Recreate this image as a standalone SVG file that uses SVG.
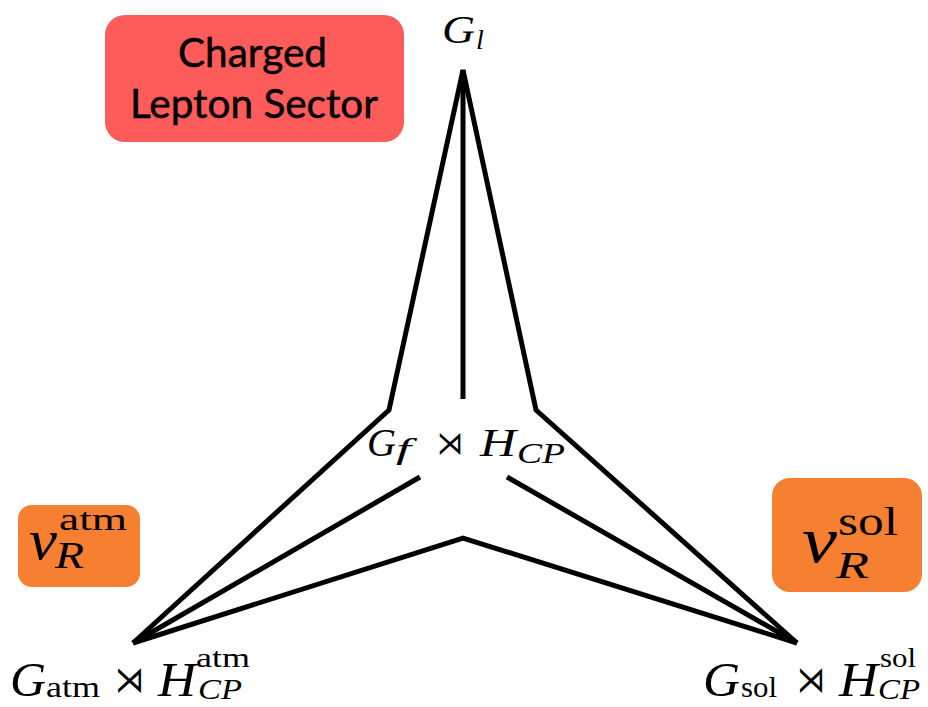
<svg xmlns="http://www.w3.org/2000/svg" width="928" height="707" viewBox="0 0 928 707">
<style>
.m{font-family:"Liberation Serif","DejaVu Serif",serif;fill:#000}
.i{font-style:italic}
.op{font-family:"DejaVu Serif","Liberation Serif",serif;fill:#000}
.lbl{font-family:Lato,"Open Sans",sans-serif;font-size:40px;fill:#000;stroke:#000;stroke-width:0.5}
.edge{fill:none;stroke:#000;stroke-width:5;stroke-linejoin:miter;stroke-linecap:butt}
</style>
<rect width="928" height="707" fill="#fff"/>
<g id="connectors">
<path class="edge" d="M133,643 L389,410 L463,70 L536,410 L797,643"/>
<path class="edge" d="M463,70 L463,399"/>
<path class="edge" d="M133,643 L420,477"/>
<path class="edge" d="M797,643 L507,477"/>
<path class="edge" d="M133,643 L463,538 L797,643"/>
</g>
<g id="charged-lepton-sector">
<rect x="105" y="15" width="299" height="127" rx="20" fill="#FE5B5B"/>
<text class="lbl" x="178" y="67" textLength="149" lengthAdjust="spacingAndGlyphs">Charged</text>
<text class="lbl" x="130" y="118" textLength="248" lengthAdjust="spacingAndGlyphs">Lepton Sector</text>
</g>
<g id="nu-atm">
<rect x="18" y="505" width="122" height="82" rx="14" fill="#F77F31"/>
<text class="m i" x="29" y="559" font-size="58" textLength="28" lengthAdjust="spacingAndGlyphs">ν</text>
<text class="m" x="59" y="530" font-size="32" textLength="68" lengthAdjust="spacingAndGlyphs">atm</text>
<text class="m i" x="55" y="568" font-size="38" textLength="29" lengthAdjust="spacingAndGlyphs">R</text>
</g>
<g id="nu-sol">
<rect x="772" y="478" width="150" height="114" rx="18" fill="#F77F31"/>
<text class="m i" x="802" y="562" font-size="65" textLength="35" lengthAdjust="spacingAndGlyphs">ν</text>
<text class="m" x="838" y="535" font-size="39" textLength="60" lengthAdjust="spacingAndGlyphs">sol</text>
<text class="m i" x="836" y="578" font-size="38" textLength="33" lengthAdjust="spacingAndGlyphs">R</text>
</g>
<g id="G-l">
<text class="m i" x="442" y="43" font-size="40" textLength="33" lengthAdjust="spacingAndGlyphs">G</text>
<text class="m i" x="476" y="49" font-size="28">l</text>
</g>
<g id="G-f">
<text class="m i" x="367" y="456" font-size="41" textLength="29" lengthAdjust="spacingAndGlyphs">G</text>
<text class="m i" x="396" y="459" font-size="30" textLength="15" lengthAdjust="spacingAndGlyphs">f</text>
<text class="op" x="437" y="454" font-size="32" textLength="26" lengthAdjust="spacingAndGlyphs">⋊</text>
<text class="m i" x="480" y="456" font-size="41" textLength="36" lengthAdjust="spacingAndGlyphs">H</text>
<text class="m i" x="517" y="463" font-size="29" textLength="48" lengthAdjust="spacingAndGlyphs">CP</text>
</g>
<g id="G-atm">
<text class="m i" x="10" y="696" font-size="49" textLength="36" lengthAdjust="spacingAndGlyphs">G</text>
<text class="m" x="46" y="697" font-size="29" textLength="54" lengthAdjust="spacingAndGlyphs">atm</text>
<text class="op" x="115" y="692" font-size="36" textLength="29" lengthAdjust="spacingAndGlyphs">⋊</text>
<text class="m i" x="158" y="696" font-size="49" textLength="38" lengthAdjust="spacingAndGlyphs">H</text>
<text class="m" x="196" y="667" font-size="28" textLength="54" lengthAdjust="spacingAndGlyphs">atm</text>
<text class="m i" x="198" y="699" font-size="30" textLength="44" lengthAdjust="spacingAndGlyphs">CP</text>
</g>
<g id="G-sol">
<text class="m i" x="703" y="696" font-size="49" textLength="37" lengthAdjust="spacingAndGlyphs">G</text>
<text class="m" x="741" y="697" font-size="29" textLength="36" lengthAdjust="spacingAndGlyphs">sol</text>
<text class="op" x="797" y="692" font-size="36" textLength="28" lengthAdjust="spacingAndGlyphs">⋊</text>
<text class="m i" x="839" y="696" font-size="49" textLength="39" lengthAdjust="spacingAndGlyphs">H</text>
<text class="m" x="880" y="667" font-size="28" textLength="36" lengthAdjust="spacingAndGlyphs">sol</text>
<text class="m i" x="878" y="699" font-size="30" textLength="42" lengthAdjust="spacingAndGlyphs">CP</text>
</g>
</svg>
